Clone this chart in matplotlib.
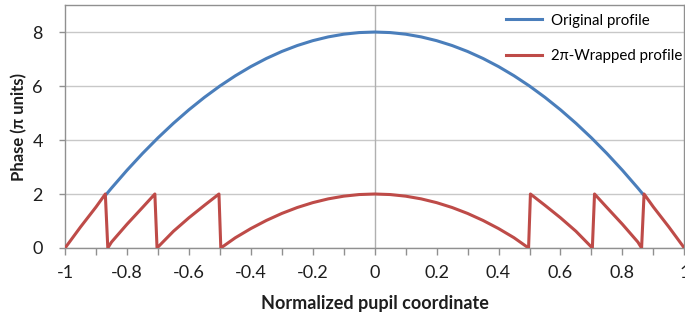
import matplotlib.pyplot as plt

plt.rcParams['font.family'] = ['Lato', 'DejaVu Sans']

# Original profile
orig_x = [-0.866, -0.85, -0.8, -0.75, -0.7, -0.65, -0.6, -0.55, -0.5, -0.45, -0.4, -0.35, -0.3,
          -0.25, -0.2, -0.15, -0.1, -0.05, 0.0, 0.05, 0.1, 0.15, 0.2, 0.25, 0.3, 0.35, 0.4,
          0.45, 0.5, 0.55, 0.6, 0.65, 0.7, 0.75, 0.8, 0.85, 0.866]
orig_y = [2.0, 2.22, 2.88, 3.5, 4.08, 4.62, 5.12, 5.58, 6.0, 6.38, 6.72, 7.02, 7.28,
          7.5, 7.68, 7.82, 7.92, 7.98, 8.0, 7.98, 7.92, 7.82, 7.68, 7.5, 7.28, 7.02, 6.72,
          6.38, 6.0, 5.58, 5.12, 4.62, 4.08, 3.5, 2.88, 2.22, 2.0]

# 2pi-wrapped profile
wrap_x = [-1.0, -0.95, -0.9, -0.87, -0.862, -0.85, -0.8, -0.75, -0.71, -0.703, -0.65, -0.6,
          -0.55, -0.503, -0.497, -0.45, -0.4, -0.35, -0.3, -0.25, -0.2, -0.15, -0.1, -0.05,
          0.0, 0.05, 0.1, 0.15, 0.2, 0.25, 0.3, 0.35, 0.4, 0.45, 0.497, 0.503, 0.55, 0.6,
          0.65, 0.703, 0.71, 0.75, 0.8, 0.85, 0.862, 0.87, 0.9, 0.95, 1.0]
wrap_y = [0.0, 0.78, 1.52, 2.0, 0.0, 0.22, 0.88, 1.5, 2.0, 0.0, 0.62, 1.12,
          1.58, 2.0, 0.0, 0.38, 0.72, 1.02, 1.28, 1.5, 1.68, 1.82, 1.92, 1.98,
          2.0, 1.98, 1.92, 1.82, 1.68, 1.5, 1.28, 1.02, 0.72, 0.38, 0.0, 2.0, 1.58, 1.12,
          0.62, 0.0, 2.0, 1.5, 0.88, 0.22, 0.0, 2.0, 1.52, 0.78, 0.0]

xticks = [-1, -0.9, -0.8, -0.7, -0.6, -0.5, -0.4, -0.3, -0.2, -0.1, 0, 0.1, 0.2, 0.3, 0.4,
          0.5, 0.6, 0.7, 0.8, 0.9, 1]
xlabels = ['-1', '', '-0.8', '', '-0.6', '', '-0.4', '', '-0.2', '', '0', '', '0.2', '',
           '0.4', '', '0.6', '', '0.8', '', '1']
yticks = [0, 2, 4, 6, 8]

fig = plt.figure(figsize=(6.85, 3.27), dpi=100)
ax = fig.add_axes([0.095, 0.2416, 0.904, 0.743])

ax.grid(axis='y', color='#c8c8c8', lw=1)
ax.axvline(0, color='#b0b0b0', lw=1, zorder=1)
ax.plot(orig_x, orig_y, color='#4a7ebb', lw=2.2, label='Original profile', zorder=3)
ax.plot(wrap_x, wrap_y, color='#be4b48', lw=2.2, label='2\u03c0-Wrapped profile', zorder=3)

ax.set_xlim(-1, 1)
ax.set_ylim(0, 9)
ax.set_xticks(xticks)
ax.set_xticklabels(xlabels)
ax.set_yticks(yticks)
ax.tick_params(axis='both', colors='#909090', labelcolor='#1e1e1e', labelsize=13,
               length=5, width=1)
ax.tick_params(axis='x', pad=7)
ax.tick_params(axis='y', pad=12, length=4)
for s in ax.spines.values():
    s.set_color('#909090')
    s.set_linewidth(1)
ax.set_axisbelow(True)

ax.set_xlabel('Normalized pupil coordinate', fontsize=13, fontweight='bold',
              color='#1e1e1e', labelpad=10)
ax.set_ylabel('Phase (\u03c0 units)', fontsize=12, fontweight='bold', color='#1e1e1e',
              labelpad=4)

ax.legend(loc='upper right', frameon=False, fontsize=10.8, handlelength=2.4,
          labelspacing=1.45, bbox_to_anchor=(1.018, 1.02), handletextpad=0.6)

fig.savefig('out.png', dpi=100)
